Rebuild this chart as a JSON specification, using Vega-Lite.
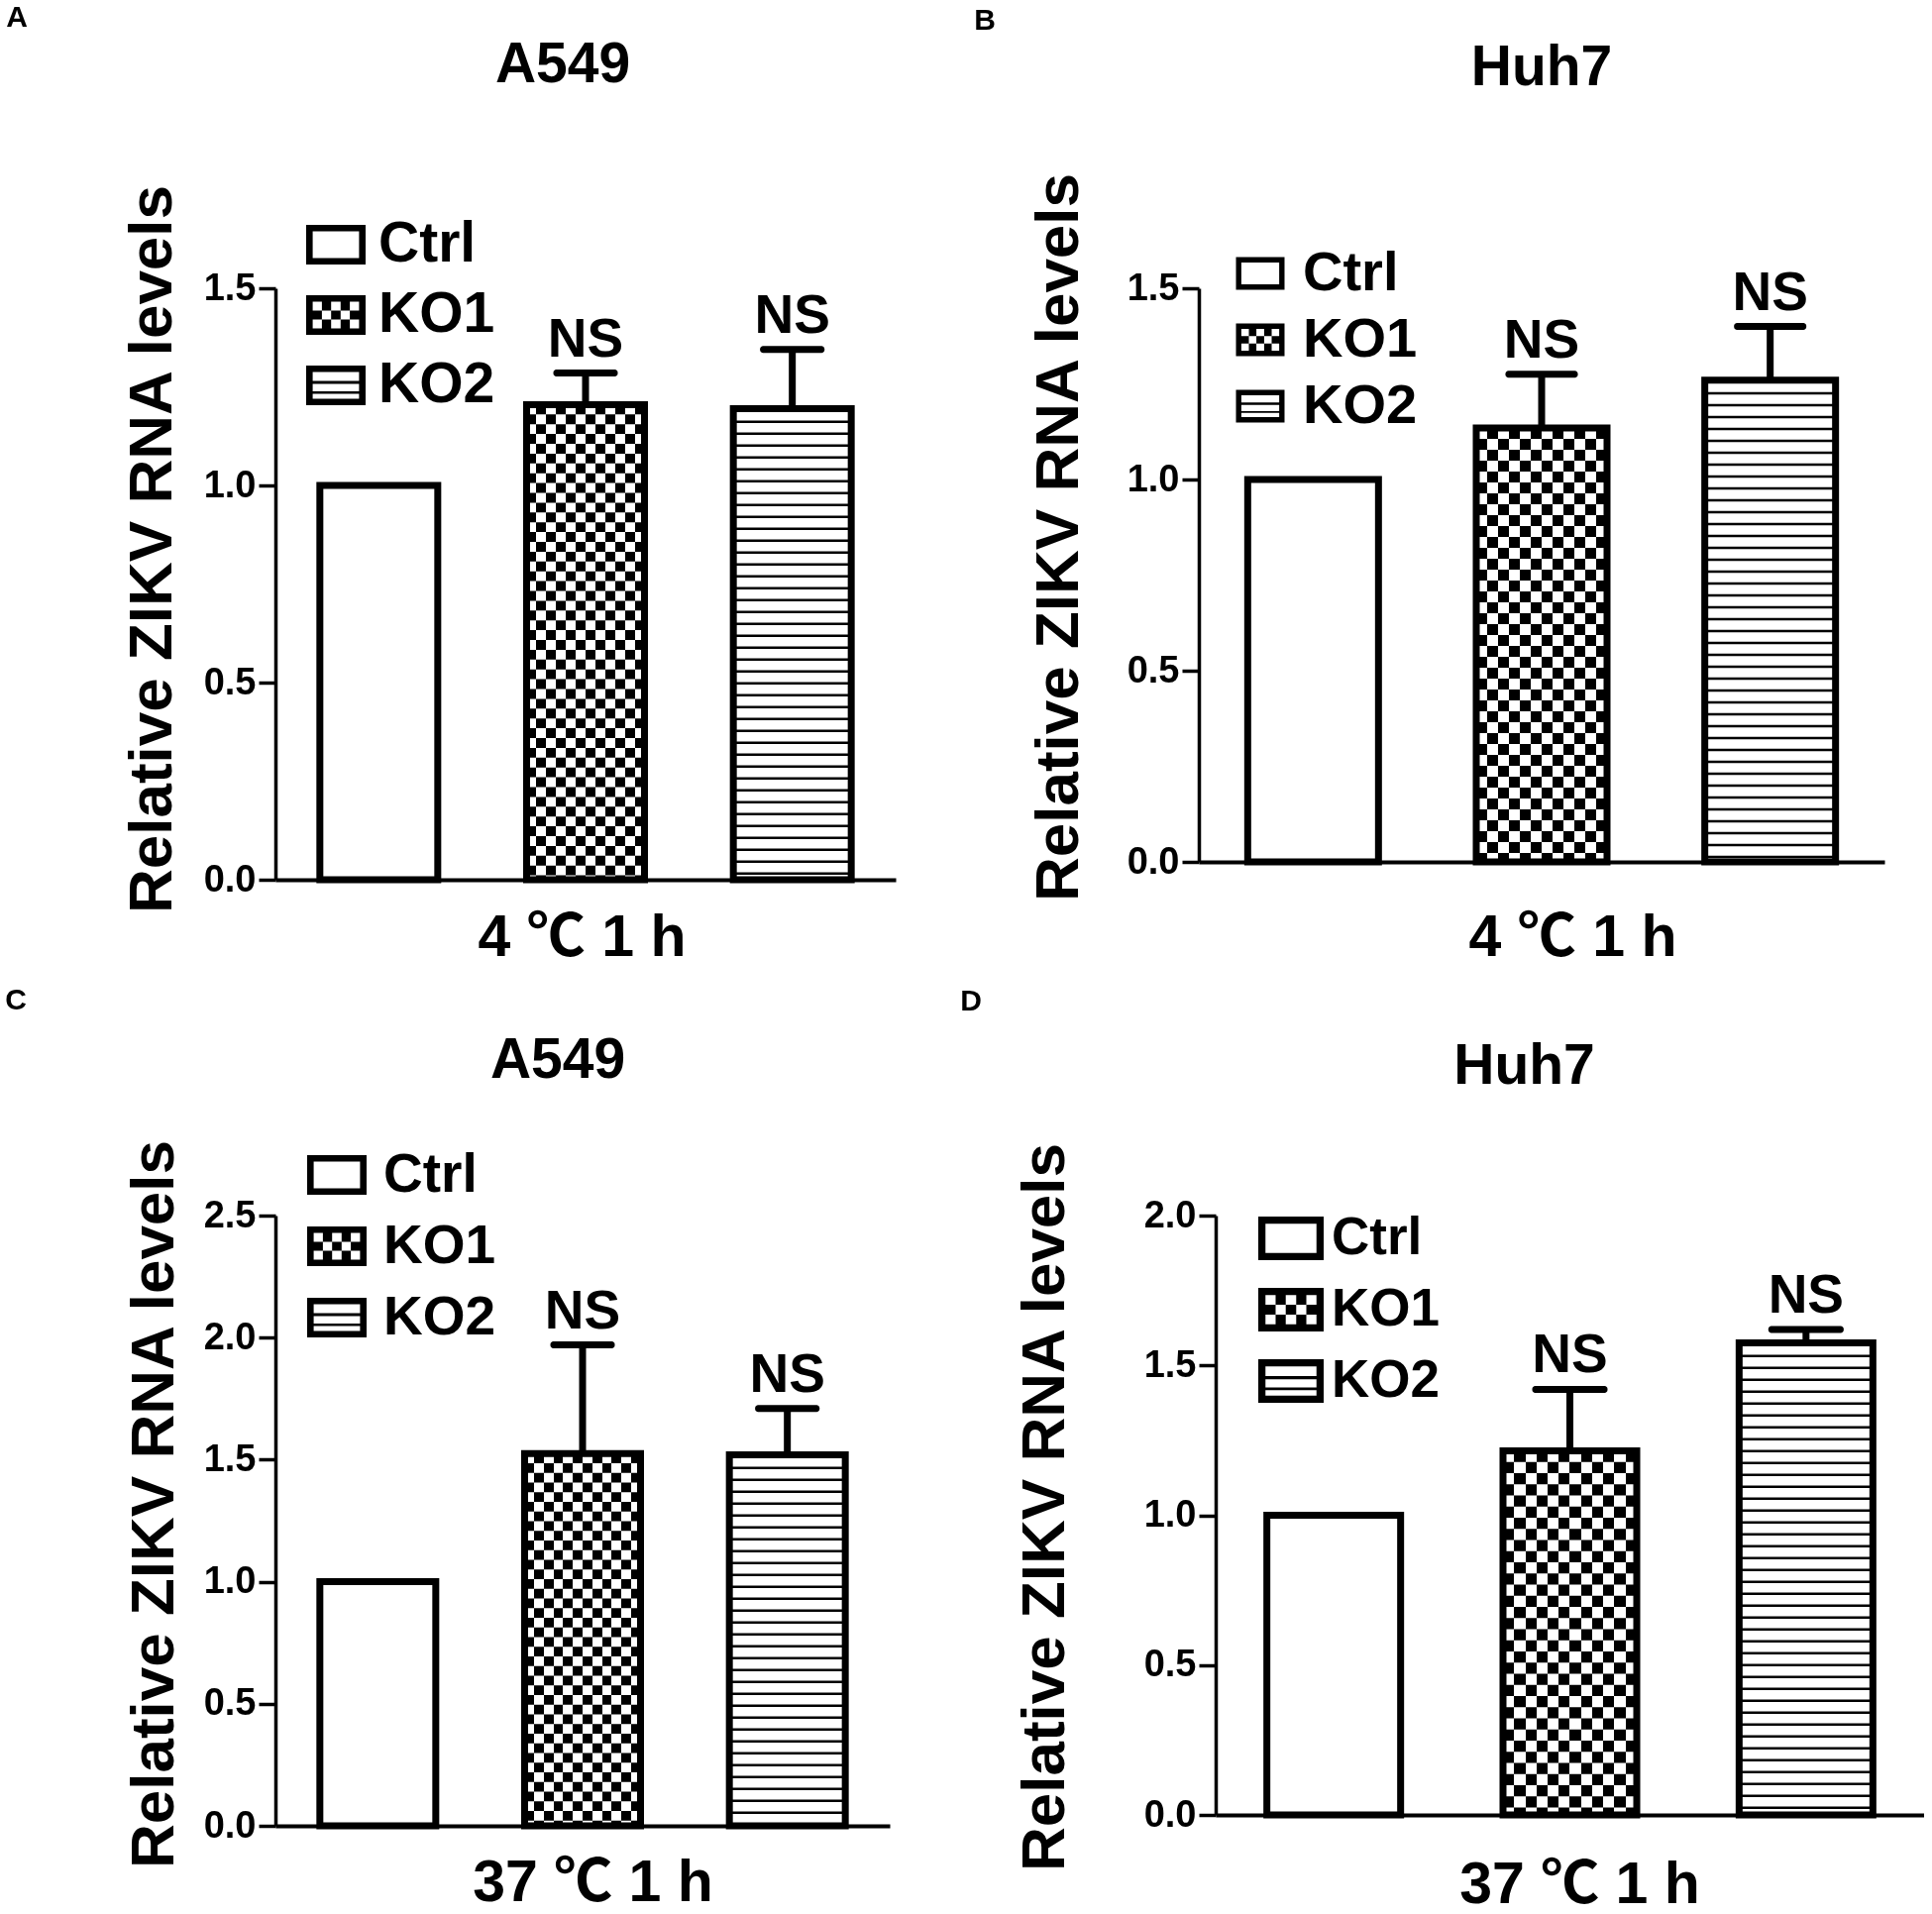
{
  "$schema": "https://vega.github.io/schema/vega-lite/v6.json",
  "background": "white",
  "padding": {"left": 5, "top": 3, "right": 0, "bottom": 0},
  "spacing": 19,
  "resolve": {"scale": {"shape": "independent"}},
  "datasets": {
    "A": [
      {"group": "Ctrl", "value": 1.0, "upper": null, "label": ""},
      {"group": "KO1", "value": 1.205, "upper": 1.285, "label": "NS"},
      {"group": "KO2", "value": 1.195, "upper": 1.345, "label": "NS"}
    ],
    "B": [
      {"group": "Ctrl", "value": 1.0, "upper": null, "label": ""},
      {"group": "KO1", "value": 1.135, "upper": 1.275, "label": "NS"},
      {"group": "KO2", "value": 1.26, "upper": 1.4, "label": "NS"}
    ],
    "C": [
      {"group": "Ctrl", "value": 1.0, "upper": null, "label": ""},
      {"group": "KO1", "value": 1.525, "upper": 1.97, "label": "NS"},
      {"group": "KO2", "value": 1.52, "upper": 1.71, "label": "NS"}
    ],
    "D": [
      {"group": "Ctrl", "value": 1.0, "upper": null, "label": ""},
      {"group": "KO1", "value": 1.215, "upper": 1.42, "label": "NS"},
      {"group": "KO2", "value": 1.575, "upper": 1.62, "label": "NS"}
    ]
  },
  "vconcat": [
    {
      "spacing": 79,
      "resolve": {"scale": {"shape": "independent"}},
      "hconcat": [
        {
          "title": {"text": "A", "anchor": "start", "frame": "bounds", "fontSize": 30, "dx": -116, "offset": 4},
          "resolve": {"scale": {"shape": "independent"}},
          "vconcat": [
            {
              "width": 626,
              "height": 597,
              "title": {"text": "A549", "fontSize": 57, "frame": "group", "dx": -23, "offset": 90},
              "data": {"name": "A"},
              "encoding": {
                "x": {"field": "group", "type": "nominal", "sort": ["Ctrl", "KO1", "KO2"], "scale": {"domain": ["Ctrl", "KO1", "KO2"], "paddingInner": 0, "paddingOuter": 0}, "axis": {"title": "4 ℃ 1 h", "titleX": 309, "titlePadding": 29}},
                "y": {"field": "value", "type": "quantitative", "title": "Relative ZIKV RNA levels", "scale": {"domain": [0, 1.5], "nice": false}, "axis": {"values": [0, 0.5, 1, 1.5], "titleY": 263, "titlePadding": 20}}
              },
              "layer": [
                {"transform": [{"filter": "datum.group === 'KO1'"}], "mark": {"type": "bar", "width": 119, "strokeWidth": 0, "fill": {"gradient": "linear", "x1": 0, "y1": 0, "x2": 1, "y2": 0, "stops": [{"offset": 0, "color": "black"}, {"offset": 0.0833, "color": "black"}, {"offset": 0.0833, "color": "white"}, {"offset": 0.1667, "color": "white"}, {"offset": 0.1667, "color": "black"}, {"offset": 0.25, "color": "black"}, {"offset": 0.25, "color": "white"}, {"offset": 0.3333, "color": "white"}, {"offset": 0.3333, "color": "black"}, {"offset": 0.4167, "color": "black"}, {"offset": 0.4167, "color": "white"}, {"offset": 0.5, "color": "white"}, {"offset": 0.5, "color": "black"}, {"offset": 0.5833, "color": "black"}, {"offset": 0.5833, "color": "white"}, {"offset": 0.6667, "color": "white"}, {"offset": 0.6667, "color": "black"}, {"offset": 0.75, "color": "black"}, {"offset": 0.75, "color": "white"}, {"offset": 0.8333, "color": "white"}, {"offset": 0.8333, "color": "black"}, {"offset": 0.9167, "color": "black"}, {"offset": 0.9167, "color": "white"}, {"offset": 1, "color": "white"}]}}},
                {"transform": [{"filter": "datum.group === 'KO1'"}], "mark": {"type": "rule", "color": "white", "strokeWidth": 119, "strokeDash": [9.9, 9.9], "blend": "difference"}, "encoding": {"y2": {"datum": 0}}},
                {"transform": [{"filter": "datum.group === 'KO2'"}], "mark": {"type": "rule", "color": "black", "strokeWidth": 119, "strokeDash": [2.5, 9.5]}, "encoding": {"y2": {"datum": 0}}},
                {"mark": {"type": "bar", "width": 119, "fill": "white", "fillOpacity": 0, "stroke": "black", "strokeWidth": 7}},
                {
                  "mark": {"type": "point", "filled": true, "fill": "black", "opacity": 0, "size": 3600},
                  "encoding": {
                    "shape": {
                      "field": "group", "type": "nominal",
                      "scale": {"domain": ["Ctrl", "KO1", "KO2"], "range": ["M-1,-0.67H1V0.67H-1ZM-0.78,-0.45V0.45H0.78V-0.45Z", "M-1,-0.67H1V0.67H-1ZM-0.78,-0.45V-0.15H-0.47V-0.45ZM-0.16,-0.45V-0.15H0.16V-0.45ZM0.47,-0.45V-0.15H0.78V-0.45ZM-0.47,-0.15V0.15H-0.16V-0.15ZM0.16,-0.15V0.15H0.47V-0.15ZM-0.78,0.15V0.45H-0.47V0.15ZM-0.16,0.15V0.45H0.16V0.15ZM0.47,0.15V0.45H0.78V0.15Z", "M-1,-0.67H1V0.67H-1ZM-0.78,-0.45V-0.15H0.78V-0.45ZM-0.78,-0.05V0.2H0.78V-0.05ZM-0.78,0.28V0.45H0.78V0.28Z"]},
                      "legend": {"title": null, "orient": "none", "legendX": 31, "legendY": -74, "symbolSize": 3600, "labelFontSize": 57, "labelOffset": 13, "rowPadding": 13}
                    }
                  }
                },
                {"transform": [{"filter": "isValid(datum.upper)"}], "mark": {"type": "rule", "color": "black", "strokeWidth": 7}, "encoding": {"y": {"field": "upper", "type": "quantitative", "title": "Relative ZIKV RNA levels"}, "y2": {"field": "value"}}},
                {"transform": [{"filter": "isValid(datum.upper)"}], "mark": {"type": "tick", "color": "black", "opacity": 1, "thickness": 7, "size": 65, "cornerRadius": 3}, "encoding": {"y": {"field": "upper", "type": "quantitative", "title": "Relative ZIKV RNA levels"}}},
                {"transform": [{"filter": "isValid(datum.upper)"}], "mark": {"type": "text", "fontSize": 55, "baseline": "alphabetic", "dy": -17}, "encoding": {"y": {"field": "upper", "type": "quantitative", "title": "Relative ZIKV RNA levels"}, "text": {"field": "label"}}}
              ]
            }
          ]
        },
        {
          "title": {"text": "B", "anchor": "start", "frame": "bounds", "fontSize": 30, "dx": -54, "offset": 4},
          "resolve": {"scale": {"shape": "independent"}},
          "vconcat": [
            {
              "width": 692,
              "height": 579,
              "title": {"text": "Huh7", "fontSize": 57, "frame": "group", "dx": 0, "offset": 75},
              "data": {"name": "B"},
              "encoding": {
                "x": {"field": "group", "type": "nominal", "sort": ["Ctrl", "KO1", "KO2"], "scale": {"domain": ["Ctrl", "KO1", "KO2"], "paddingInner": 0, "paddingOuter": 0}, "axis": {"title": "4 ℃ 1 h", "titleX": 377, "titlePadding": 47}},
                "y": {"field": "value", "type": "quantitative", "title": "Relative ZIKV RNA levels", "scale": {"domain": [0, 1.5], "nice": false}, "axis": {"values": [0, 0.5, 1, 1.5], "titleY": 251, "titlePadding": 37}}
              },
              "layer": [
                {"transform": [{"filter": "datum.group === 'KO1'"}], "mark": {"type": "bar", "width": 132, "strokeWidth": 0, "fill": {"gradient": "linear", "x1": 0, "y1": 0, "x2": 1, "y2": 0, "stops": [{"offset": 0, "color": "black"}, {"offset": 0.0833, "color": "black"}, {"offset": 0.0833, "color": "white"}, {"offset": 0.1667, "color": "white"}, {"offset": 0.1667, "color": "black"}, {"offset": 0.25, "color": "black"}, {"offset": 0.25, "color": "white"}, {"offset": 0.3333, "color": "white"}, {"offset": 0.3333, "color": "black"}, {"offset": 0.4167, "color": "black"}, {"offset": 0.4167, "color": "white"}, {"offset": 0.5, "color": "white"}, {"offset": 0.5, "color": "black"}, {"offset": 0.5833, "color": "black"}, {"offset": 0.5833, "color": "white"}, {"offset": 0.6667, "color": "white"}, {"offset": 0.6667, "color": "black"}, {"offset": 0.75, "color": "black"}, {"offset": 0.75, "color": "white"}, {"offset": 0.8333, "color": "white"}, {"offset": 0.8333, "color": "black"}, {"offset": 0.9167, "color": "black"}, {"offset": 0.9167, "color": "white"}, {"offset": 1, "color": "white"}]}}},
                {"transform": [{"filter": "datum.group === 'KO1'"}], "mark": {"type": "rule", "color": "white", "strokeWidth": 132, "strokeDash": [11, 11], "blend": "difference"}, "encoding": {"y2": {"datum": 0}}},
                {"transform": [{"filter": "datum.group === 'KO2'"}], "mark": {"type": "rule", "color": "black", "strokeWidth": 132, "strokeDash": [2.5, 9.5]}, "encoding": {"y2": {"datum": 0}}},
                {"mark": {"type": "bar", "width": 132, "fill": "white", "fillOpacity": 0, "stroke": "black", "strokeWidth": 7}},
                {
                  "mark": {"type": "point", "filled": true, "fill": "black", "opacity": 0, "size": 2401},
                  "encoding": {
                    "shape": {
                      "field": "group", "type": "nominal",
                      "scale": {"domain": ["Ctrl", "KO1", "KO2"], "range": ["M-1,-0.67H1V0.67H-1ZM-0.78,-0.45V0.45H0.78V-0.45Z", "M-1,-0.67H1V0.67H-1ZM-0.78,-0.45V-0.15H-0.47V-0.45ZM-0.16,-0.45V-0.15H0.16V-0.45ZM0.47,-0.45V-0.15H0.78V-0.45ZM-0.47,-0.15V0.15H-0.16V-0.15ZM0.16,-0.15V0.15H0.47V-0.15ZM-0.78,0.15V0.45H-0.47V0.15ZM-0.16,0.15V0.45H0.16V0.15ZM0.47,0.15V0.45H0.78V0.15Z", "M-1,-0.67H1V0.67H-1ZM-0.78,-0.45V-0.15H0.78V-0.45ZM-0.78,-0.05V0.2H0.78V-0.05ZM-0.78,0.28V0.45H0.78V0.28Z"]},
                      "legend": {"title": null, "orient": "none", "legendX": 34, "legendY": -43, "symbolSize": 2401, "labelFontSize": 56, "labelOffset": 15, "rowPadding": 11}
                    }
                  }
                },
                {"transform": [{"filter": "isValid(datum.upper)"}], "mark": {"type": "rule", "color": "black", "strokeWidth": 7}, "encoding": {"y": {"field": "upper", "type": "quantitative", "title": "Relative ZIKV RNA levels"}, "y2": {"field": "value"}}},
                {"transform": [{"filter": "isValid(datum.upper)"}], "mark": {"type": "tick", "color": "black", "opacity": 1, "thickness": 7, "size": 73, "cornerRadius": 3}, "encoding": {"y": {"field": "upper", "type": "quantitative", "title": "Relative ZIKV RNA levels"}}},
                {"transform": [{"filter": "isValid(datum.upper)"}], "mark": {"type": "text", "fontSize": 55, "baseline": "alphabetic", "dy": -17}, "encoding": {"y": {"field": "upper", "type": "quantitative", "title": "Relative ZIKV RNA levels"}, "text": {"field": "label"}}}
              ]
            }
          ]
        }
      ]
    },
    {
      "spacing": 71,
      "resolve": {"scale": {"shape": "independent"}},
      "hconcat": [
        {
          "title": {"text": "C", "anchor": "start", "frame": "bounds", "fontSize": 30, "dx": -119, "offset": 17},
          "resolve": {"scale": {"shape": "independent"}},
          "vconcat": [
            {
              "width": 620,
              "height": 616,
              "title": {"text": "A549", "fontSize": 57, "frame": "group", "dx": -25, "offset": 49},
              "data": {"name": "C"},
              "encoding": {
                "x": {"field": "group", "type": "nominal", "sort": ["Ctrl", "KO1", "KO2"], "scale": {"domain": ["Ctrl", "KO1", "KO2"], "paddingInner": 0, "paddingOuter": 0}, "axis": {"title": "37 ℃ 1 h", "titleX": 320, "titlePadding": 28}},
                "y": {"field": "value", "type": "quantitative", "title": "Relative ZIKV RNA levels", "scale": {"domain": [0, 2.5], "nice": false}, "axis": {"values": [0, 0.5, 1, 1.5, 2, 2.5], "titleY": 291, "titlePadding": 18}}
              },
              "layer": [
                {"transform": [{"filter": "datum.group === 'KO1'"}], "mark": {"type": "bar", "width": 117, "strokeWidth": 0, "fill": {"gradient": "linear", "x1": 0, "y1": 0, "x2": 1, "y2": 0, "stops": [{"offset": 0, "color": "black"}, {"offset": 0.0833, "color": "black"}, {"offset": 0.0833, "color": "white"}, {"offset": 0.1667, "color": "white"}, {"offset": 0.1667, "color": "black"}, {"offset": 0.25, "color": "black"}, {"offset": 0.25, "color": "white"}, {"offset": 0.3333, "color": "white"}, {"offset": 0.3333, "color": "black"}, {"offset": 0.4167, "color": "black"}, {"offset": 0.4167, "color": "white"}, {"offset": 0.5, "color": "white"}, {"offset": 0.5, "color": "black"}, {"offset": 0.5833, "color": "black"}, {"offset": 0.5833, "color": "white"}, {"offset": 0.6667, "color": "white"}, {"offset": 0.6667, "color": "black"}, {"offset": 0.75, "color": "black"}, {"offset": 0.75, "color": "white"}, {"offset": 0.8333, "color": "white"}, {"offset": 0.8333, "color": "black"}, {"offset": 0.9167, "color": "black"}, {"offset": 0.9167, "color": "white"}, {"offset": 1, "color": "white"}]}}},
                {"transform": [{"filter": "datum.group === 'KO1'"}], "mark": {"type": "rule", "color": "white", "strokeWidth": 117, "strokeDash": [9.75, 9.75], "blend": "difference"}, "encoding": {"y2": {"datum": 0}}},
                {"transform": [{"filter": "datum.group === 'KO2'"}], "mark": {"type": "rule", "color": "black", "strokeWidth": 117, "strokeDash": [2.5, 9.5]}, "encoding": {"y2": {"datum": 0}}},
                {"mark": {"type": "bar", "width": 117, "fill": "white", "fillOpacity": 0, "stroke": "black", "strokeWidth": 7}},
                {
                  "mark": {"type": "point", "filled": true, "fill": "black", "opacity": 0, "size": 3600},
                  "encoding": {
                    "shape": {
                      "field": "group", "type": "nominal",
                      "scale": {"domain": ["Ctrl", "KO1", "KO2"], "range": ["M-1,-0.67H1V0.67H-1ZM-0.78,-0.45V0.45H0.78V-0.45Z", "M-1,-0.67H1V0.67H-1ZM-0.78,-0.45V-0.15H-0.47V-0.45ZM-0.16,-0.45V-0.15H0.16V-0.45ZM0.47,-0.45V-0.15H0.78V-0.45ZM-0.47,-0.15V0.15H-0.16V-0.15ZM0.16,-0.15V0.15H0.47V-0.15ZM-0.78,0.15V0.45H-0.47V0.15ZM-0.16,0.15V0.45H0.16V0.15ZM0.47,0.15V0.45H0.78V0.15Z", "M-1,-0.67H1V0.67H-1ZM-0.78,-0.45V-0.15H0.78V-0.45ZM-0.78,-0.05V0.2H0.78V-0.05ZM-0.78,0.28V0.45H0.78V0.28Z"]},
                      "legend": {"title": null, "orient": "none", "legendX": 32, "legendY": -71, "symbolSize": 3600, "labelFontSize": 55, "labelOffset": 17, "rowPadding": 14}
                    }
                  }
                },
                {"transform": [{"filter": "isValid(datum.upper)"}], "mark": {"type": "rule", "color": "black", "strokeWidth": 7}, "encoding": {"y": {"field": "upper", "type": "quantitative", "title": "Relative ZIKV RNA levels"}, "y2": {"field": "value"}}},
                {"transform": [{"filter": "isValid(datum.upper)"}], "mark": {"type": "tick", "color": "black", "opacity": 1, "thickness": 7, "size": 65, "cornerRadius": 3}, "encoding": {"y": {"field": "upper", "type": "quantitative", "title": "Relative ZIKV RNA levels"}}},
                {"transform": [{"filter": "isValid(datum.upper)"}], "mark": {"type": "text", "fontSize": 55, "baseline": "alphabetic", "dy": -17}, "encoding": {"y": {"field": "upper", "type": "quantitative", "title": "Relative ZIKV RNA levels"}, "text": {"field": "label"}}}
              ]
            }
          ]
        },
        {
          "title": {"text": "D", "anchor": "start", "frame": "bounds", "fontSize": 30, "dx": -54, "offset": 22},
          "resolve": {"scale": {"shape": "independent"}},
          "vconcat": [
            {
              "width": 715,
              "height": 605,
              "title": {"text": "Huh7", "fontSize": 57, "frame": "group", "dx": -46, "offset": 46},
              "data": {"name": "D"},
              "encoding": {
                "x": {"field": "group", "type": "nominal", "sort": ["Ctrl", "KO1", "KO2"], "scale": {"domain": ["Ctrl", "KO1", "KO2"], "paddingInner": 0, "paddingOuter": 0}, "axis": {"title": "37 ℃ 1 h", "titleX": 367, "titlePadding": 41}},
                "y": {"field": "value", "type": "quantitative", "title": "Relative ZIKV RNA levels", "scale": {"domain": [0, 2], "nice": false}, "axis": {"values": [0, 0.5, 1, 1.5, 2], "titleY": 294, "titlePadding": 68}}
              },
              "layer": [
                {"transform": [{"filter": "datum.group === 'KO1'"}], "mark": {"type": "bar", "width": 135, "strokeWidth": 0, "fill": {"gradient": "linear", "x1": 0, "y1": 0, "x2": 1, "y2": 0, "stops": [{"offset": 0, "color": "black"}, {"offset": 0.0833, "color": "black"}, {"offset": 0.0833, "color": "white"}, {"offset": 0.1667, "color": "white"}, {"offset": 0.1667, "color": "black"}, {"offset": 0.25, "color": "black"}, {"offset": 0.25, "color": "white"}, {"offset": 0.3333, "color": "white"}, {"offset": 0.3333, "color": "black"}, {"offset": 0.4167, "color": "black"}, {"offset": 0.4167, "color": "white"}, {"offset": 0.5, "color": "white"}, {"offset": 0.5, "color": "black"}, {"offset": 0.5833, "color": "black"}, {"offset": 0.5833, "color": "white"}, {"offset": 0.6667, "color": "white"}, {"offset": 0.6667, "color": "black"}, {"offset": 0.75, "color": "black"}, {"offset": 0.75, "color": "white"}, {"offset": 0.8333, "color": "white"}, {"offset": 0.8333, "color": "black"}, {"offset": 0.9167, "color": "black"}, {"offset": 0.9167, "color": "white"}, {"offset": 1, "color": "white"}]}}},
                {"transform": [{"filter": "datum.group === 'KO1'"}], "mark": {"type": "rule", "color": "white", "strokeWidth": 135, "strokeDash": [11.25, 11.25], "blend": "difference"}, "encoding": {"y2": {"datum": 0}}},
                {"transform": [{"filter": "datum.group === 'KO2'"}], "mark": {"type": "rule", "color": "black", "strokeWidth": 135, "strokeDash": [2.5, 9.5]}, "encoding": {"y2": {"datum": 0}}},
                {"mark": {"type": "bar", "width": 135, "fill": "white", "fillOpacity": 0, "stroke": "black", "strokeWidth": 7}},
                {
                  "mark": {"type": "point", "filled": true, "fill": "black", "opacity": 0, "size": 4356},
                  "encoding": {
                    "shape": {
                      "field": "group", "type": "nominal",
                      "scale": {"domain": ["Ctrl", "KO1", "KO2"], "range": ["M-1,-0.67H1V0.67H-1ZM-0.78,-0.45V0.45H0.78V-0.45Z", "M-1,-0.67H1V0.67H-1ZM-0.78,-0.45V-0.15H-0.47V-0.45ZM-0.16,-0.45V-0.15H0.16V-0.45ZM0.47,-0.45V-0.15H0.78V-0.45ZM-0.47,-0.15V0.15H-0.16V-0.15ZM0.16,-0.15V0.15H0.47V-0.15ZM-0.78,0.15V0.45H-0.47V0.15ZM-0.16,0.15V0.45H0.16V0.15ZM0.47,0.15V0.45H0.78V0.15Z", "M-1,-0.67H1V0.67H-1ZM-0.78,-0.45V-0.15H0.78V-0.45ZM-0.78,-0.05V0.2H0.78V-0.05ZM-0.78,0.28V0.45H0.78V0.28Z"]},
                      "legend": {"title": null, "orient": "none", "legendX": 43, "legendY": -10, "symbolSize": 4356, "labelFontSize": 53, "labelOffset": 8, "rowPadding": 12}
                    }
                  }
                },
                {"transform": [{"filter": "isValid(datum.upper)"}], "mark": {"type": "rule", "color": "black", "strokeWidth": 7}, "encoding": {"y": {"field": "upper", "type": "quantitative", "title": "Relative ZIKV RNA levels"}, "y2": {"field": "value"}}},
                {"transform": [{"filter": "isValid(datum.upper)"}], "mark": {"type": "tick", "color": "black", "opacity": 1, "thickness": 7, "size": 76, "cornerRadius": 3}, "encoding": {"y": {"field": "upper", "type": "quantitative", "title": "Relative ZIKV RNA levels"}}},
                {"transform": [{"filter": "isValid(datum.upper)"}], "mark": {"type": "text", "fontSize": 55, "baseline": "alphabetic", "dy": -17}, "encoding": {"y": {"field": "upper", "type": "quantitative", "title": "Relative ZIKV RNA levels"}, "text": {"field": "label"}}}
              ]
            }
          ]
        }
      ]
    }
  ],
  "config": {
    "view": {"stroke": null},
    "font": "Liberation Sans",
    "title": {"font": "Liberation Sans", "fontWeight": "bold", "color": "black", "anchor": "middle"},
    "axis": {"domainColor": "black", "tickColor": "black", "labelColor": "black", "titleColor": "black", "labelFontWeight": "bold", "titleFontWeight": "bold", "titleFont": "Liberation Sans, Noto Sans CJK SC", "grid": false},
    "axisX": {"labels": false, "ticks": false, "domainWidth": 4, "titleFontSize": 59},
    "axisY": {"format": ".1f", "tickSize": 17, "tickWidth": 3.5, "domainWidth": 3.5, "labelFont": "Liberation Sans", "labelFontSize": 38, "labelPadding": 3, "titleFontSize": 62},
    "legend": {"padding": 0, "labelFont": "Liberation Sans", "labelFontWeight": "bold", "labelColor": "black", "symbolOpacity": 1, "symbolFillColor": "black", "symbolStrokeWidth": 0},
    "text": {"font": "Liberation Sans", "fontWeight": "bold", "color": "black"}
  }
}
